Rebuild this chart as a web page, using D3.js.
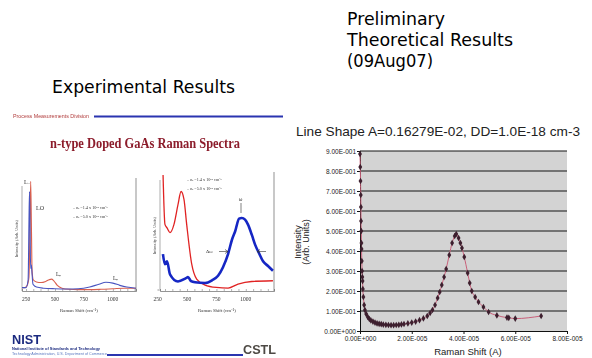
<!DOCTYPE html>
<html>
<head>
<meta charset="utf-8">
<script src="https://cdn.jsdelivr.net/npm/d3@7/dist/d3.min.js"></script>
<style>
  body { margin: 0; background: #fff; }
  svg { display: block; }
</style>
</head>
<body>
<svg id="chart" width="592" height="358"></svg>
<script>
// theoretical line shape (right chart)
const ramanShift = [0, 0.01e-5, 0.02e-5, 0.03e-5, 0.035e-5, 0.04e-5, 0.05e-5, 0.055e-5, 0.06e-5, 0.07e-5,
  0.08e-5, 0.09e-5, 0.10e-5, 0.11e-5, 0.13e-5, 0.16e-5, 0.19e-5, 0.24e-5, 0.30e-5, 0.36e-5,
  0.42e-5, 0.50e-5, 0.58e-5, 0.66e-5, 0.74e-5, 0.82e-5, 0.90e-5, 1.00e-5, 1.10e-5, 1.20e-5,
  1.30e-5, 1.40e-5, 1.50e-5, 1.60e-5, 1.70e-5, 1.85e-5, 2.00e-5, 2.15e-5, 2.30e-5, 2.45e-5,
  2.60e-5, 2.71e-5, 2.80e-5, 2.90e-5, 3.00e-5, 3.08e-5, 3.16e-5, 3.25e-5, 3.33e-5, 3.45e-5,
  3.56e-5, 3.66e-5, 3.72e-5, 3.81e-5, 3.88e-5, 3.94e-5, 4.03e-5, 4.16e-5, 4.24e-5, 4.32e-5,
  4.45e-5, 4.58e-5, 4.77e-5, 4.97e-5, 5.29e-5, 5.68e-5, 5.75e-5, 6.00e-5, 7.00e-5];
const intensity = [0.885, 0.82, 0.75, 0.68, 0.62, 0.55, 0.50, 0.44, 0.41, 0.35,
  0.30, 0.27, 0.25, 0.21, 0.17, 0.13, 0.105, 0.085, 0.07, 0.06,
  0.053, 0.047, 0.042, 0.038, 0.036, 0.034, 0.032, 0.031, 0.030, 0.029,
  0.029, 0.030, 0.031, 0.033, 0.035, 0.038, 0.042, 0.047, 0.054, 0.063,
  0.075, 0.09, 0.105, 0.13, 0.165, 0.195, 0.23, 0.27, 0.31, 0.38,
  0.44, 0.475, 0.485, 0.465, 0.44, 0.415, 0.37, 0.29, 0.24, 0.20,
  0.17, 0.145, 0.12, 0.095, 0.078, 0.067, 0.066, 0.062, 0.075];
const yTicks = [0, 0.1, 0.2, 0.3, 0.4, 0.5, 0.6, 0.7, 0.8, 0.9];
const xTicks = [0, 2e-5, 4e-5, 6e-5, 8e-5];

// experimental spectra copied from the slide (cm-1, relative intensity)
const redA_x = [215, 240, 260, 275, 283, 290, 296, 302, 312, 340, 380, 420, 450, 470, 490, 520, 560, 620, 700, 800, 900, 1000, 1100, 1200];
const redA_y = [0.03, 0.03, 0.05, 0.12, 0.5, 0.97, 0.6, 0.18, 0.1, 0.08, 0.075, 0.085, 0.1, 0.105, 0.09, 0.05, 0.025, 0.015, 0.012, 0.012, 0.015, 0.02, 0.025, 0.025];
const blueA_x = [215, 250, 268, 275, 280, 285, 290, 296, 302, 310, 340, 400, 500, 600, 700, 800, 880, 940, 1000, 1060, 1120, 1200];
const blueA_y = [0.03, 0.03, 0.1, 0.6, 0.88, 0.5, 0.2, 0.23, 0.15, 0.06, 0.035, 0.025, 0.02, 0.018, 0.02, 0.035, 0.06, 0.077, 0.07, 0.05, 0.035, 0.025];
const redB_x = [296, 312, 330, 355, 389, 423, 449, 474, 497, 540, 582, 653, 750, 849, 934, 1050, 1231];
const redB_y = [0.975, 0.56, 0.53, 0.49, 0.56, 0.725, 0.836, 0.77, 0.56, 0.225, 0.1, 0.05, 0.03, 0.025, 0.058, 0.08, 0.086];
const blueB_x = [295, 312, 330, 355, 423, 491, 508, 534, 568, 653, 713, 764, 806, 849, 883, 909, 943, 966, 994, 1019, 1053, 1079, 1113, 1147, 1189, 1231];
const blueB_y = [0.31, 0.225, 0.25, 0.14, 0.08, 0.108, 0.117, 0.083, 0.073, 0.067, 0.09, 0.128, 0.2, 0.31, 0.433, 0.5, 0.608, 0.614, 0.6, 0.558, 0.467, 0.39, 0.317, 0.25, 0.21, 0.17];
const expTicks = [250, 500, 750, 1000];
const legendText = ['n\u2091 =1.4 x 10\u00b9\u2078 cm\u207b\u00b3', 'n\u2091 =5.0 x 10\u00b9\u2078 cm\u207b\u00b3'];

const svg = d3.select('#chart');
const sans = '"DejaVu Sans", Verdana, sans-serif';
const arial = '"Liberation Sans", Arial, sans-serif';
const serif = '"Liberation Serif", "Times New Roman", serif';

// headings
svg.append('g').selectAll('text')
  .data(['Preliminary', 'Theoretical Results', '(09Aug07)'])
  .join('text')
  .attr('x', 347).attr('y', (d, i) => 25 + i * 21)
  .attr('font-family', sans).attr('font-size', 18)
  .attr('textLength', (d, i) => [98, 166, 86][i]).attr('lengthAdjust', 'spacingAndGlyphs')
  .text(d => d);
svg.append('text').attr('x', 52).attr('y', 93)
  .attr('font-family', sans).attr('font-size', 18)
  .attr('textLength', 183).attr('lengthAdjust', 'spacingAndGlyphs')
  .text('Experimental Results');

// ---------- slide picture (left) ----------
svg.append('defs').append('filter').attr('id', 'soft')
  .append('feGaussianBlur').attr('stdDeviation', 0.35);
const slide = svg.append('g').attr('filter', 'url(#soft)');

slide.append('text').attr('x', 13).attr('y', 118)
  .attr('font-family', arial).attr('font-size', 4.5).attr('fill', '#b03a3a')
  .attr('textLength', 76).attr('lengthAdjust', 'spacingAndGlyphs')
  .text('Process Measurements Division');
slide.append('line').attr('x1', 94).attr('x2', 283).attr('y1', 116.5).attr('y2', 116.5)
  .attr('stroke', '#2a35b0').attr('stroke-width', 2);
slide.append('text').attr('x', 50).attr('y', 148)
  .attr('font-family', serif).attr('font-weight', 'bold').attr('font-size', 15).attr('fill', '#8c1c2c')
  .attr('textLength', 190).attr('lengthAdjust', 'spacingAndGlyphs')
  .text('n-type Doped GaAs Raman Spectra');

function miniPlot(box, domain, series) {
  const x = d3.scaleLinear().domain(domain).range([box.left, box.right]);
  const y = d3.scaleLinear().domain([0, 1]).range([box.bottom, box.top]);
  const g = slide.append('g');
  g.append('line').attr('x1', box.left).attr('x2', box.left).attr('y1', box.top + 8).attr('y2', box.bottom)
    .attr('stroke', '#777').attr('stroke-width', 0.6);
  g.append('line').attr('x1', box.right).attr('x2', box.right).attr('y1', box.top).attr('y2', box.bottom)
    .attr('stroke', '#666').attr('stroke-width', 0.7);
  const ax = g.append('g').attr('transform', `translate(0,${box.bottom})`)
    .call(d3.axisBottom(x).tickValues(d3.range(250, domain[1], 62.5)).tickSize(-2).tickFormat(''));
  ax.select('.domain').attr('stroke', '#666').attr('stroke-width', 0.7);
  ax.selectAll('.tick line').attr('stroke', '#666').attr('stroke-width', 0.5);
  g.selectAll('.lbl').data(expTicks).join('text')
    .attr('x', d => x(d)).attr('y', box.bottom + 10)
    .attr('text-anchor', 'middle').attr('font-family', serif).attr('font-size', 5.5).attr('fill', '#333')
    .text(d => d);
  g.append('text').attr('x', (box.left + box.right) / 2).attr('y', box.bottom + 21)
    .attr('text-anchor', 'middle').attr('font-family', serif).attr('font-size', 4.8).attr('fill', '#333')
    .text('Raman Shift (cm\u207b\u00b9)');
  g.append('text').attr('transform', `translate(${box.left - 4},${(box.top + box.bottom) / 2 + 4}) rotate(-90)`)
    .attr('text-anchor', 'middle').attr('font-family', serif).attr('font-size', 4.3).attr('fill', '#444')
    .text('Intensity (Arb. Units)');
  series.forEach(s => {
    const pts = s.xs.map((v, i) => [x(v), y(s.ys[i])]);
    g.append('path').attr('d', d3.line().curve(d3.curveMonotoneX)(pts))
      .attr('fill', 'none').attr('stroke', s.color).attr('stroke-width', s.width);
  });
  return { x, y, g };
}

const pA = miniPlot({ left: 22, right: 136, top: 178, bottom: 291 }, [215, 1200], [
  { xs: redA_x, ys: redA_y, color: '#d9604f', width: 1.1 },
  { xs: blueA_x, ys: blueA_y, color: '#4a55c0', width: 1.1 }
]);
pA.g.append('text').attr('x', 24).attr('y', 184).attr('font-family', serif).attr('font-size', 6).attr('fill', '#333').text('L\u208b');
pA.g.append('text').attr('x', 36).attr('y', 210).attr('font-family', serif).attr('font-size', 6).attr('fill', '#333').text('LO');
pA.g.append('text').attr('x', 56).attr('y', 276).attr('font-family', serif).attr('font-size', 5.5).attr('fill', '#333').text('L\u208a');
pA.g.append('text').attr('x', 113).attr('y', 280).attr('font-family', serif).attr('font-size', 5.5).attr('fill', '#333').text('L\u208a');
pA.g.selectAll('.leg').data(legendText).join('text')
  .attr('x', 73).attr('y', (d, i) => 209 + i * 8.5)
  .attr('font-family', serif).attr('font-size', 4.2).attr('fill', '#333')
  .text(d => '\u2013 ' + d);

const pB = miniPlot({ left: 160, right: 274, top: 172, bottom: 291 }, [270, 1240], [
  { xs: redB_x, ys: redB_y, color: '#e02424', width: 1.3 },
  { xs: blueB_x, ys: blueB_y, color: '#1428c4', width: 2.6 }
]);
pB.g.selectAll('.leg').data(legendText).join('text')
  .attr('x', 187).attr('y', (d, i) => 181 + i * 8.5)
  .attr('font-family', serif).attr('font-size', 4.2).attr('fill', '#333')
  .text(d => '\u2013 ' + d);
pB.g.append('text').attr('x', 240.5).attr('y', 201).attr('text-anchor', 'middle')
  .attr('font-family', serif).attr('font-size', 5.5).attr('fill', '#333').text('\u03c9');
pB.g.append('line').attr('x1', 241).attr('x2', 241).attr('y1', 203).attr('y2', 213)
  .attr('stroke', '#333').attr('stroke-width', 0.6);
pB.g.append('text').attr('x', 206).attr('y', 253)
  .attr('font-family', serif).attr('font-size', 5).attr('fill', '#333').text('\u0394\u03c9');
pB.g.append('path').attr('d', 'M219,251.5H228M225,249.5L228,251.5L225,253.5M266,251.5H257M260,249.5L257,251.5L260,253.5')
  .attr('fill', 'none').attr('stroke', '#333').attr('stroke-width', 0.6);

// footer logos
slide.append('text').attr('x', 12).attr('y', 344)
  .attr('font-family', arial).attr('font-weight', 'bold').attr('font-size', 13).attr('fill', '#1c2c80')
  .attr('textLength', 29).attr('lengthAdjust', 'spacingAndGlyphs').text('NIST');
slide.append('text').attr('x', 12).attr('y', 350)
  .attr('font-family', arial).attr('font-weight', 'bold').attr('font-size', 4).attr('fill', '#1c2c80')
  .attr('textLength', 88).attr('lengthAdjust', 'spacingAndGlyphs')
  .text('National Institute of Standards and Technology');
slide.append('text').attr('x', 12).attr('y', 355)
  .attr('font-family', arial).attr('font-size', 4).attr('fill', '#5a78c0')
  .attr('textLength', 95).attr('lengthAdjust', 'spacingAndGlyphs')
  .text('Technology Administration, U.S. Department of Commerce');
slide.append('line').attr('x1', 107).attr('x2', 243).attr('y1', 355).attr('y2', 355)
  .attr('stroke', '#2a35b0').attr('stroke-width', 2);
slide.append('text').attr('x', 243).attr('y', 354)
  .attr('font-family', arial).attr('font-weight', 'bold').attr('font-size', 13.5).attr('fill', '#4e4a44')
  .attr('textLength', 33).attr('lengthAdjust', 'spacingAndGlyphs').text('CSTL');

// ---------- theoretical chart (right) ----------
const m = { left: 360, right: 567, top: 151, bottom: 331 };
const x = d3.scaleLinear().domain([0, 8e-5]).range([m.left, m.right]);
const y = d3.scaleLinear().domain([0, 0.9]).range([m.bottom, m.top]);

function excelFmt(v) {
  if (v === 0) return '0.00E+000';
  const e = Math.floor(Math.log10(Math.abs(v)) + 1e-9);
  const mant = v / Math.pow(10, e);
  return mant.toFixed(2) + 'E' + (e < 0 ? '-' : '+') + String(Math.abs(e)).padStart(3, '0');
}

const chart = svg.append('g');
chart.append('text').attr('x', 296).attr('y', 136)
  .attr('font-family', arial).attr('font-size', 13.5).attr('fill', '#222')
  .attr('textLength', 284).attr('lengthAdjust', 'spacingAndGlyphs')
  .text('Line Shape A=0.16279E-02, DD=1.0E-18 cm-3');

chart.append('rect').attr('x', m.left).attr('y', m.top)
  .attr('width', m.right - m.left).attr('height', m.bottom - m.top).attr('fill', '#d3d3d3');

chart.append('g').selectAll('line').data(yTicks.slice(1)).join('line')
  .attr('x1', m.left).attr('x2', m.right).attr('y1', d => y(d)).attr('y2', d => y(d))
  .attr('stroke', '#141414').attr('stroke-width', 1.2);

const yAxis = chart.append('g').attr('transform', `translate(${m.left},0)`)
  .call(d3.axisLeft(y).tickValues(yTicks).tickSize(3).tickPadding(1).tickFormat(excelFmt));
const xAxis = chart.append('g').attr('transform', `translate(0,${m.bottom})`)
  .call(d3.axisBottom(x).tickValues(xTicks).tickSize(3).tickPadding(2).tickFormat(excelFmt));
[yAxis, xAxis].forEach(a => {
  a.select('.domain').attr('stroke', '#111').attr('stroke-width', 1);
  a.selectAll('.tick line').attr('stroke', '#111');
  a.selectAll('text').attr('font-family', arial).attr('font-size', 6.5).attr('fill', '#222');
});

const pts = ramanShift.map((v, i) => [x(v), y(intensity[i])]);
chart.append('path').attr('d', d3.line().curve(d3.curveMonotoneX)(pts))
  .attr('fill', 'none').attr('stroke', '#c9607a').attr('stroke-width', 1);
chart.append('g').selectAll('path').data(pts).join('path')
  .attr('transform', d => `translate(${d[0]},${d[1]})`)
  .attr('d', d3.symbol(d3.symbolDiamond, 13))
  .attr('fill', '#3d1f2e');

chart.append('text').attr('x', 468).attr('y', 355).attr('text-anchor', 'middle')
  .attr('font-family', arial).attr('font-size', 9.5).attr('fill', '#222')
  .text('Raman Shift (A)');
chart.append('g').selectAll('text').data(['Intensity', '(Arb. Units)']).join('text')
  .attr('transform', (d, i) => `translate(${301 + i * 8},242) rotate(-90)`)
  .attr('text-anchor', 'middle').attr('font-family', arial).attr('font-size', 9).attr('fill', '#222')
  .text(d => d);
</script>
</body>
</html>
